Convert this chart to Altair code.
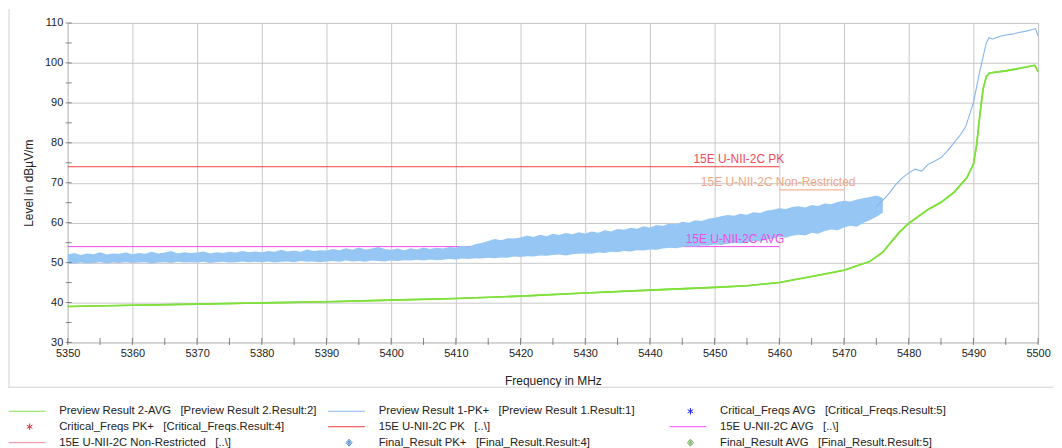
import altair as alt
import pandas as pd

# ---------------- data ----------------
x_ticks = [5350, 5355, 5360, 5365, 5370, 5375, 5380, 5385, 5390, 5395, 5400, 5405,
           5410, 5415, 5420, 5425, 5430, 5435, 5440, 5445, 5450, 5455, 5460, 5465,
           5470, 5475, 5480, 5485, 5490, 5495, 5500]
y_ticks = [30, 35, 40, 45, 50, 55, 60, 65, 70, 75, 80, 85, 90, 95, 100, 105, 110]

# Preview Result 2-AVG (green)
green_f = [5350, 5360, 5370, 5380, 5390, 5400, 5410, 5420, 5430, 5440, 5450, 5455,
           5460, 5465, 5470, 5474, 5476, 5477, 5478.5, 5480, 5483, 5485, 5487, 5489,
           5490, 5490.5, 5491, 5491.5, 5492, 5492.5, 5495, 5497, 5499.5, 5500]
green_v = [39.0, 39.3, 39.6, 39.9, 40.2, 40.6, 41.0, 41.6, 42.4, 43.1, 43.8, 44.2,
           45.0, 46.5, 48.1, 50.3, 52.6, 54.6, 57.5, 59.8, 63.3, 65.1, 67.6, 71.3,
           74.6, 79.5, 87.0, 93.5, 96.6, 97.5, 98.0, 98.6, 99.4, 97.8]

# Preview Result 1-PK+ (blue) noisy band 5350..5476 MHz, low / high envelope
band_f = list(range(5350, 5477))
band_lo = [
    49.9, 49.7, 50.0, 49.8, 49.9, 50.1, 49.8, 50.0, 49.9, 50.1,
    49.9, 50.0, 50.1, 49.8, 50.0, 50.1, 49.9, 50.2, 50.0, 50.1,
    50.0, 50.2, 49.9, 50.1, 50.2, 50.0, 50.1, 50.3, 50.1, 50.2,
    50.1, 50.3, 50.0, 50.2, 50.3, 50.1, 50.4, 50.2, 50.3, 50.1,
    50.3, 50.4, 50.2, 50.5, 50.3, 50.4, 50.2, 50.5, 50.4, 50.3,
    50.5, 50.4, 50.6, 50.5, 50.7, 50.5, 50.8, 50.6, 50.7, 50.9,
    50.8, 51.0, 50.9, 51.1, 51.0, 51.2, 51.1, 51.3, 51.2, 51.5,
    51.4, 51.6, 51.5, 51.8, 51.7, 51.9, 52.0, 51.8, 52.1, 52.2,
    52.3, 52.2, 52.5, 52.4, 52.7, 52.6, 52.9, 52.8, 53.1, 53.0,
    53.3, 53.2, 53.5, 53.7, 53.6, 53.9, 54.1, 54.0, 54.3, 54.2,
    54.5, 54.4, 54.7, 54.9, 54.8, 55.1, 55.4, 55.3, 55.7, 56.0,
    56.4, 56.2, 56.7, 57.0, 56.8, 57.5, 57.2, 57.9, 58.3, 58.1,
    58.8, 59.2, 59.0, 60.0, 60.6, 61.5, 62.5]
band_hi = [
    52.0, 52.4, 51.9, 52.3, 52.1, 52.6, 52.0, 52.3, 52.2, 52.5,
    52.1, 52.4, 52.2, 52.7, 52.3, 52.5, 52.9, 52.3, 52.6, 52.4,
    52.5, 52.8, 52.3, 52.6, 52.4, 52.7, 52.5, 52.9, 52.6, 52.8,
    52.6, 52.9, 52.7, 53.2, 52.8, 53.0, 52.7, 53.3, 52.9, 53.1,
    53.0, 53.4, 53.1, 53.6, 53.2, 53.8, 53.3, 53.5, 53.9, 53.4,
    53.2, 53.5, 53.1, 53.6, 53.3, 53.8, 53.4, 53.7, 53.5, 53.9,
    53.8, 54.2, 54.0, 54.6, 54.9, 55.4, 55.9, 55.6, 56.1, 56.0,
    56.3, 56.8, 56.4, 57.0, 56.6, 57.2, 56.9, 57.4, 57.1, 57.6,
    57.3, 57.8, 57.5, 58.1, 57.8, 58.4, 58.2, 58.7, 58.5, 59.1,
    58.8, 59.4, 59.2, 59.8, 59.6, 60.2, 60.0, 60.6, 60.4, 61.0,
    61.2, 61.6, 61.9, 61.7, 62.2, 62.0, 62.6, 62.4, 63.0, 63.2,
    63.6, 63.4, 63.9, 64.1, 63.8, 64.4, 64.2, 64.8, 64.6, 65.2,
    65.5, 65.3, 65.8, 66.1, 66.4, 66.8, 66.2]

# Preview Result 1-PK+ tail after the band
tail_f = [5475, 5476, 5477, 5478, 5479, 5480, 5481, 5482, 5483, 5484, 5485, 5486,
          5487, 5488, 5488.8, 5489.5, 5490, 5490.5, 5491, 5491.5, 5492, 5492.4,
          5493, 5494, 5495, 5496, 5497, 5498, 5499, 5499.6, 5500]
tail_v = [64.0, 65.6, 67.4, 69.5, 71.2, 72.4, 73.4, 72.9, 74.6, 75.4, 76.3, 78.0,
          80.0, 82.0, 84.0, 87.5, 90.0, 94.0, 98.0, 101.5, 105.0, 106.3,
          106.0, 106.6, 107.0, 107.2, 107.6, 107.9, 108.3, 108.6, 106.8]

# limit lines
pk_f, pk_v = [5350, 5460], [74, 74]
avg_f, avg_v = [5350, 5460], [54, 54]
nr_f, nr_v = [5460, 5470], [68.2, 68.2]

ann_text = ["15E U-NII-2C PK", "15E U-NII-2C Non-Restricted", "15E U-NII-2C AVG"]
ann_f = [5460, 5471, 5460]
ann_v = [74, 68.2, 54]
ann_color = ["#ef4a5a", "#f2a584", "#ee4ce8"]

NB = "\u00a0"
BLANK = "\u2800"
legend_labels = [
    "Preview Result 2-AVG" + NB * 3 + "[Preview Result 2.Result:2]",
    "Preview Result 1-PK+" + NB * 3 + "[Preview Result 1.Result:1]" + BLANK * 3,
    "Critical_Freqs AVG" + NB * 3 + "[Critical_Freqs.Result:5]",
    "Critical_Freqs PK+" + NB * 3 + "[Critical_Freqs.Result:4]",
    "15E U-NII-2C PK" + NB * 3 + "[..\\]",
    "15E U-NII-2C AVG" + NB * 3 + "[..\\]",
    "15E U-NII-2C Non-Restricted" + NB * 3 + "[..\\]",
    "Final_Result PK+" + NB * 3 + "[Final_Result.Result:4]",
    "Final_Result AVG" + NB * 3 + "[Final_Result.Result:5]",
]
legend_colors = ["#86e04a", "#86b6ec", "#2323f0", "#f02a3a", "#f03a3a",
                 "#f04cf0", "#f2849a", "#4a86c8", "#6aa84f"]

# ---------------- styling ----------------
GREEN = "#7ee03a"
BLUE = "#96c6f4"
BLUE_LINE = "#86b4ee"
RED = "#f43c3c"
MAGENTA = "#f448f4"
NR_COL = "#f4a07a"
GRID = "#c8c8c8"

LINE_P = "M-1,0L6.4,0"
STAR_P = "M3.2,-0.65L3.2,0.65M2.64,-0.33L3.76,0.33M2.64,0.33L3.76,-0.33"
DIAM_P = "M3.2,-0.7L3.8,0L3.2,0.7L2.6,0ZM3.2,-0.4L3.45,0L3.2,0.4L2.95,0ZM3.05,0L3.35,0"
legend_shapes = [LINE_P, LINE_P, STAR_P, STAR_P, LINE_P, LINE_P, LINE_P, DIAM_P, DIAM_P]

xscale = alt.Scale(domain=[5350, 5500], nice=False, zero=False)
yscale = alt.Scale(domain=[30, 110], nice=False, zero=False)

xaxis = alt.Axis(values=x_ticks, title="Frequency in MHz",
                 labelExpr="datum.value % 10 === 0 ? datum.label : ''",
                 format="d", grid=True, gridColor=GRID, ticks=False, domain=False,
                 labelPadding=5, labelFontSize=11, labelColor="#222",
                 titleFontSize=12, titleFontWeight="normal", titlePadding=17,
                 titleColor="#222", labelFlush=False)
yaxis = alt.Axis(values=y_ticks, title="Level in dBµV/m",
                 labelExpr="datum.value % 10 === 0 ? datum.label : ''",
                 grid=True, gridColor=GRID, ticks=False, domain=False,
                 labelPadding=5, labelFontSize=11, labelColor="#222",
                 titleFontSize=12, titleFontWeight="normal", titlePadding=9,
                 titleColor="#222")

# ---------------- tables ----------------
green_df = pd.DataFrame({"f": green_f, "v": green_v})
band_df = pd.DataFrame({"f": band_f, "lo": band_lo, "hi": band_hi})
tail_df = pd.DataFrame({"f": tail_f, "v": tail_v})
pk_df = pd.DataFrame({"f": pk_f, "v": pk_v})
avg_df = pd.DataFrame({"f": avg_f, "v": avg_v})
nr_df = pd.DataFrame({"f": nr_f, "v": nr_v})
ann_df = pd.DataFrame({"t": ann_text, "f": ann_f, "v": ann_v, "c": ann_color})
xt_df = pd.DataFrame({"f": x_ticks})
yt_df = pd.DataFrame({"v": y_ticks})
leg_df = pd.DataFrame({"series": legend_labels})
one = pd.DataFrame({"a": [0]})


def line(df, color, width=1.0, axes=False):
    return alt.Chart(df).mark_line(color=color, strokeWidth=width).encode(
        x=alt.X("f:Q", scale=xscale, axis=xaxis if axes else alt.Undefined),
        y=alt.Y("v:Q", scale=yscale, axis=yaxis if axes else alt.Undefined),
    )


# ---------------- layers ----------------
band = alt.Chart(band_df).mark_area(color=BLUE, opacity=1, strokeWidth=0).encode(
    x=alt.X("f:Q", scale=xscale),
    y=alt.Y("lo:Q", scale=yscale),
    y2="hi:Q",
)

ann = alt.Chart(ann_df).mark_text(align="right", baseline="bottom", dx=5, dy=-1,
                                  fontSize=12, font="Liberation Sans").encode(
    x=alt.X("f:Q", scale=xscale),
    y=alt.Y("v:Q", scale=yscale),
    text="t:N",
    color=alt.Color("c:N", scale=None),
)

xticks = alt.Chart(xt_df).mark_tick(orient="vertical", size=7, thickness=1,
                                    color="#555", yOffset=-1).encode(
    x=alt.X("f:Q", scale=xscale),
    y=alt.datum(30, scale=yscale),
)
yticks = alt.Chart(yt_df).mark_tick(orient="horizontal", size=6, thickness=1,
                                    color="#555", xOffset=1).encode(
    y=alt.Y("v:Q", scale=yscale),
    x=alt.datum(5350, scale=xscale),
)

frame_left = alt.Chart(one).mark_rule(color="#d0d0d0", strokeWidth=1).encode(
    x=alt.value(-59), y=alt.value(-14), y2=alt.value(366))
frame_bottom = alt.Chart(one).mark_rule(color="#d0d0d0", strokeWidth=1).encode(
    x=alt.value(-60), x2=alt.value(990), y=alt.value(366))

leg = alt.Legend(orient="none", legendX=-60, legendY=384, columns=3,
                 direction="horizontal",
                 columnPadding=8, rowPadding=3, symbolSize=100,
                 symbolStrokeWidth=1, labelFontSize=11.4, labelLimit=0,
                 labelOffset=40, title=None, padding=0, labelColor="#222",
                 labelFont="Liberation Sans")
legend_layer = alt.Chart(leg_df).transform_filter(
    alt.datum.series == "__none__"
).mark_point(filled=False, opacity=1, strokeWidth=1, size=100).encode(
    color=alt.Color("series:N", scale=alt.Scale(domain=legend_labels, range=legend_colors),
                    legend=leg),
    shape=alt.Shape("series:N", scale=alt.Scale(domain=legend_labels, range=legend_shapes),
                    legend=leg),
)

chart = alt.layer(
    frame_left, frame_bottom,
    line(green_df, GREEN, 1.6, axes=True),
    line(pk_df, RED), line(avg_df, MAGENTA), line(nr_df, NR_COL),
    band, line(tail_df, BLUE_LINE, 1.1),
    line(green_df, GREEN, 1.6),
    ann, xticks, yticks, legend_layer,
).properties(
    width=975, height=321,
    autosize=alt.AutoSizeParams(type="none"),
    padding={"left": 60, "top": 14, "right": 16, "bottom": 105},
).configure(
    font="Liberation Sans",
).configure_view(stroke=GRID)

chart.save("out.html", embed_options={"renderer": "svg", "actions": False})
